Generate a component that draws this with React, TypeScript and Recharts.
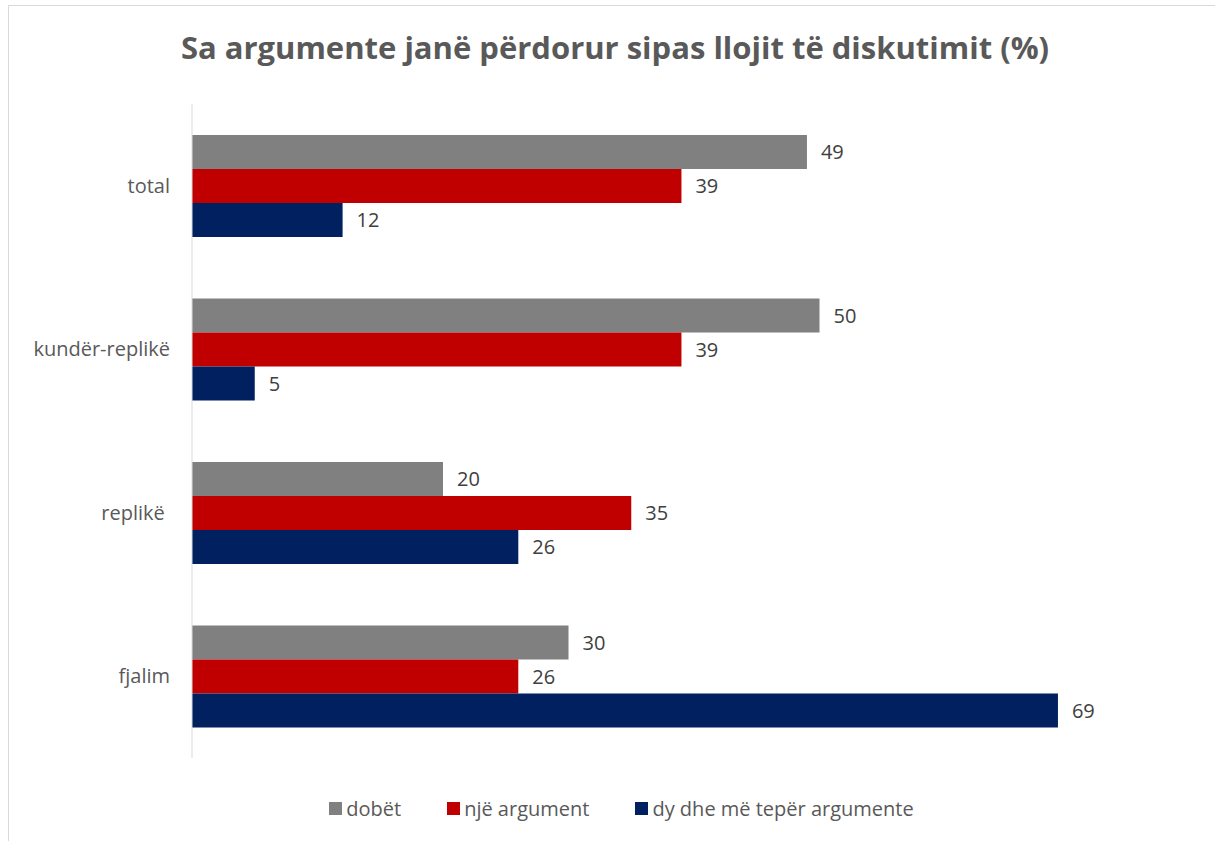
import React from "react";
import { BarChart, Bar, XAxis, YAxis, LabelList } from "recharts";

const categories = ["total", "kundër-replikë", "replikë\u00a0", "fjalim"];
const dobet = [49, 50, 20, 30];
const njeArgument = [39, 39, 35, 26];
const dyArgumente = [12, 5, 26, 69];

const seriesNames = ["dobët", "një argument", "dy dhe më tepër argumente"];
const seriesColors = ["#808080", "#C00000", "#002060"];

const data = categories.map((c, i) => ({
  name: c,
  dobet: dobet[i],
  nje: njeArgument[i],
  dy: dyArgumente[i],
}));

const FONT = "'Open Sans', sans-serif";

function LegendRow() {
  return (
    <div
      style={{
        position: "absolute",
        left: 0,
        top: 795,
        width: 1243,
        display: "flex",
        justifyContent: "center",
        gap: 46,
        fontFamily: FONT,
        fontSize: 20,
        color: "#595959",
      }}
    >
      {seriesNames.map((n, i) => (
        <div key={n} style={{ display: "flex", alignItems: "center" }}>
          <span style={{ width: 13, height: 13, background: seriesColors[i], marginRight: 4, display: "inline-block" }} />
          <span>{n}</span>
        </div>
      ))}
    </div>
  );
}

export default function App() {
  return (
    <div style={{ position: "absolute", left: 0, top: 0, width: 1215, height: 841, background: "#fff", overflow: "hidden" }}>
      <div style={{ position: "absolute", left: 8, top: 5, width: 1240, height: 900, border: "1px solid #d9d9d9" }} />
      <div
        style={{
          position: "absolute",
          left: 0,
          top: 26,
          width: 1230,
          textAlign: "center",
          fontFamily: FONT,
          fontWeight: 700,
          fontSize: 31,
          color: "#595959",
        }}
      >
        Sa argumente janë përdorur sipas llojit të diskutimit (%)
      </div>
      <div style={{ position: "absolute", left: 0, top: 0 }}>
        <BarChart
          width={1215}
          height={841}
          data={data}
          layout="vertical"
          margin={{ top: 104, right: 19, left: 0, bottom: 83 }}
          barSize={34}
          barGap={0}
        >
          <XAxis type="number" domain={[0, 80]} hide />
          <YAxis
            type="category"
            dataKey="name"
            width={192}
            axisLine={{ stroke: "#d9d9d9" }}
            tickLine={false}
            tickSize={0}
            tickMargin={22}
            tick={{ fill: "#595959", fontSize: 20, fontFamily: FONT }}
          />
          <Bar dataKey="dobet" fill={seriesColors[0]} isAnimationActive={false}>
            <LabelList dataKey="dobet" position="right" offset={14} fill="#404040" fontSize={20} fontFamily={FONT} />
          </Bar>
          <Bar dataKey="nje" fill={seriesColors[1]} isAnimationActive={false}>
            <LabelList dataKey="nje" position="right" offset={14} fill="#404040" fontSize={20} fontFamily={FONT} />
          </Bar>
          <Bar dataKey="dy" fill={seriesColors[2]} isAnimationActive={false}>
            <LabelList dataKey="dy" position="right" offset={14} fill="#404040" fontSize={20} fontFamily={FONT} />
          </Bar>
        </BarChart>
      </div>
      <LegendRow />
    </div>
  );
}
